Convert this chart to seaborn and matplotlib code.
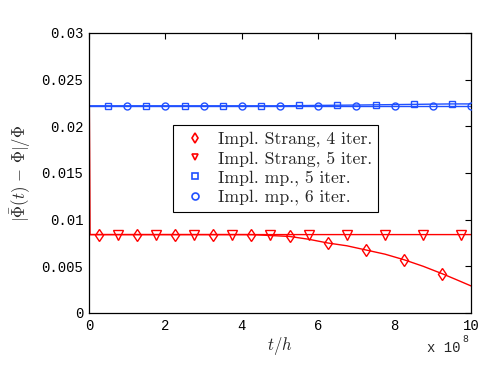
import matplotlib
matplotlib.use("Agg")
import matplotlib.pyplot as plt
import seaborn as sns
import pandas as pd
from matplotlib.lines import Line2D

# --- datos (t en unidades de 1e8) ---
# curvas continuas
t_linea_s4 = [0, 0.02, 0.25, 1.25, 2.25, 3.25, 4.25, 4.75, 5.25, 5.75, 6.25, 6.75,
              7.25, 7.75, 8.25, 8.75, 9.25, 9.6, 10]
y_linea_s4 = [0.031, 0.0084, 0.0084, 0.0084, 0.0084, 0.0084, 0.0084, 0.0083, 0.0082,
              0.0079, 0.0075, 0.0072, 0.00675, 0.0063, 0.0057, 0.0050, 0.0042, 0.0036, 0.0029]
t_linea_s5 = [0, 0.02, 10]
y_linea_s5 = [0.031, 0.0084, 0.0084]
t_linea_mp5 = [0, 5, 7, 9.5, 10]
y_linea_mp5 = [0.0222, 0.0222, 0.02228, 0.0224, 0.0224]
t_linea_mp6 = [0, 10]
y_linea_mp6 = [0.0222, 0.0222]

# marcadores
t_mark_s4 = [0.25, 1.25, 2.25, 3.25, 4.25, 5.25, 6.25, 7.25, 8.25, 9.25]
y_mark_s4 = [0.0084, 0.0084, 0.0084, 0.0084, 0.0084, 0.0082, 0.0075, 0.00675, 0.0057, 0.0042]
t_mark_s5 = [0.75, 1.75, 2.75, 3.75, 4.75, 5.75, 6.75, 7.75, 8.75, 9.75]
y_mark_s5 = [0.0084] * 10
t_mark_mp5 = [0.5, 1.5, 2.5, 3.5, 4.5, 5.5, 6.5, 7.5, 8.5, 9.5]
y_mark_mp5 = [0.0222, 0.0222, 0.0222, 0.0222, 0.0222, 0.02224, 0.02226, 0.0223, 0.02235, 0.0224]
t_mark_mp6 = [1, 2, 3, 4, 5, 6, 7, 8, 9, 10]
y_mark_mp6 = [0.0222] * 10

etiquetas = ["Impl. Strang, 4 iter.", "Impl. Strang, 5 iter.",
             "Impl. mp., 5 iter.", "Impl. mp., 6 iter."]
marcadores = ["d", "v", "s", "o"]
tamanos = [6, 6.5, 5, 5]
rojo = "#ff0000"
azul = "#2050ff"
colores = [rojo, rojo, azul, azul]

yticks = [0, 0.005, 0.01, 0.015, 0.02, 0.025, 0.03]
ytick_labels = ["0", "0.005", "0.01", "0.015", "0.02", "0.025", "0.03"]
xticks = [0, 2, 4, 6, 8, 10]

sns.set_style("white")
plt.rcParams["mathtext.fontset"] = "cm"

fig = plt.figure(figsize=(4.91, 3.69), dpi=100)
ax = fig.add_axes([0.1813, 0.1518, 0.7780, 0.7588])

lineas = [(t_linea_mp6, y_linea_mp6, azul), (t_linea_mp5, y_linea_mp5, azul),
          (t_linea_s5, y_linea_s5, rojo), (t_linea_s4, y_linea_s4, rojo)]
for t, y, c in lineas:
    sns.lineplot(x=t, y=y, color=c, lw=1.0, ax=ax, sort=False, estimator=None)

puntos = [(t_mark_s4, y_mark_s4), (t_mark_s5, y_mark_s5),
          (t_mark_mp5, y_mark_mp5), (t_mark_mp6, y_mark_mp6)]
for (t, y), m, ms, c in zip(puntos, marcadores, tamanos, colores):
    ax.plot(t, y, linestyle="none", marker=m, markersize=ms,
            markerfacecolor="none", markeredgecolor=c, markeredgewidth=1.0, zorder=4)

ax.set_xlim(0, 10)
ax.set_ylim(0, 0.03)
ax.set_xticks(xticks)
ax.set_yticks(yticks)
ax.set_yticklabels(ytick_labels)
for lab in ax.get_xticklabels() + ax.get_yticklabels():
    lab.set_family("Liberation Mono")
    lab.set_fontsize(10)
ax.tick_params(direction="in", length=4, width=0.8, top=True, right=True,
               colors="black", pad=4)
for s in ax.spines.values():
    s.set_color("black")
    s.set_linewidth(0.9)

ax.set_xlabel("$t/h$", fontsize=12, labelpad=2)
ax.set_ylabel(r"$|\bar{\Phi}(t)\,-\,\Phi|/\Phi$", fontsize=12, labelpad=6)

fig.text(0.869, 0.045, "x 10", family="Liberation Mono", fontsize=10)
fig.text(0.942, 0.072, "8", family="Liberation Mono", fontsize=7)

handles = [Line2D([], [], linestyle="none", marker=m, markersize=5,
                  markerfacecolor="none", markeredgecolor=c, markeredgewidth=1.2)
           for m, c in zip(marcadores, colores)]
leg = ax.legend(handles, etiquetas, loc="upper left", bbox_to_anchor=(0.22, 0.67),
                prop={"family": "cmr10", "size": 12.7}, frameon=True, fancybox=False,
                edgecolor="black", framealpha=1, borderpad=0.35, labelspacing=0.2,
                handletextpad=0.4, handlelength=1.8, borderaxespad=0)
leg.get_frame().set_linewidth(0.8)

plt.savefig("out.png", dpi=100)
plt.close()
